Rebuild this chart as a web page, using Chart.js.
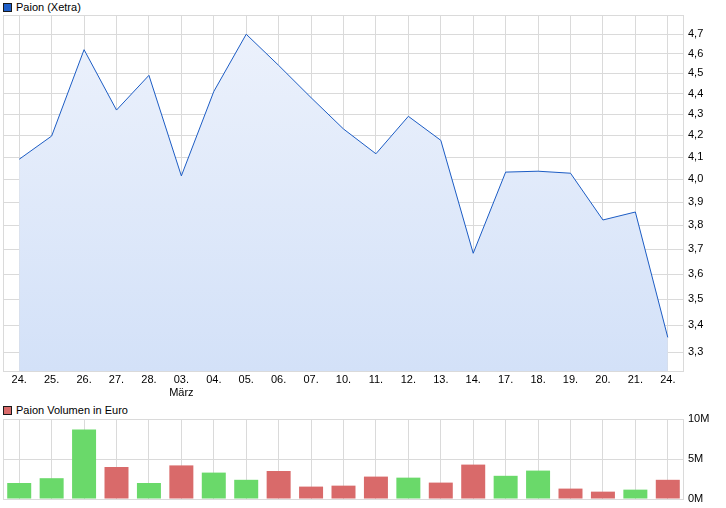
<!DOCTYPE html>
<html>
<head>
<meta charset="utf-8">
<script src="https://cdn.jsdelivr.net/npm/chart.js@4.4.1/dist/chart.umd.min.js"></script>
<style>
  html, body { margin: 0; background: #fff; overflow: hidden; font-family: "Liberation Sans", Arial, sans-serif; }
  #wrap { position: relative; width: 726px; height: 508px; overflow: hidden; }
  .legend { position: absolute; left: 3px; font-size: 11px; color: #000; line-height: 12px; }
  .legend i { display: inline-block; width: 7px; height: 7px; border: 1px solid #1a1a1a; margin-right: 4px; vertical-align: -1px; }
  #priceBox { position: absolute; left: 0; top: 0; width: 726px; height: 400px; }
  #volBox { position: absolute; left: 0; top: 400px; width: 726px; height: 114px; }
</style>
</head>
<body>
<div id="wrap">
  <div class="legend" style="top:1px"><i style="background:#1f5fc9"></i>Paion (Xetra)</div>
  <div class="legend" style="top:404px"><i style="background:#d96a6a"></i>Paion Volumen in Euro</div>
  <div id="priceBox"><canvas id="priceChart" width="726" height="400"></canvas></div>
  <div id="volBox"><canvas id="volChart" width="726" height="114"></canvas></div>
</div>
<script>
// Data
const days = ["24.", "25.", "26.", "27.", "28.", ["03.", "März"], "04.", "05.", "06.", "07.",
  "10.", "11.", "12.", "13.", "14.", "17.", "18.", "19.", "20.", "21.", "24."];
const prices = [4.09, 4.197, 4.62, 4.32, 4.49, 4.015, 4.41, 4.70, 4.54, 4.38,
  4.23, 4.115, 4.29, 4.177, 3.684, 4.032, 4.036, 4.027, 3.823, 3.857, 3.355];
const volumes = [2.0, 2.6, 8.7, 4.0, 2.0, 4.2, 3.3, 2.4, 3.5, 1.55,
  1.67, 2.8, 2.67, 2.05, 4.3, 2.9, 3.55, 1.3, 0.92, 1.17, 2.4].map(v => v * 1e6);
const priceTicks = [3.3, 3.4, 3.5, 3.6, 3.7, 3.8, 3.9, 4.0, 4.1, 4.2, 4.3, 4.4, 4.5, 4.6, 4.7];
const volTicks = [0, 5e6, 10e6];

Chart.defaults.font.family = '"Liberation Sans", Arial, sans-serif';
Chart.defaults.font.size = 11;
Chart.defaults.color = '#000';
Chart.defaults.animation = false;

const gridColor = '#dadada';

// Frame around the plot area
const frame = {
  id: 'frame',
  beforeDatasetsDraw(chart) {
    const a = chart.chartArea, c = chart.ctx;
    c.save();
    c.strokeStyle = gridColor;
    c.lineWidth = 1;
    c.strokeRect(Math.round(a.left) + 0.5, Math.round(a.top) + 0.5,
      Math.round(a.right - a.left) - 1, Math.round(a.bottom - a.top));
    c.restore();
  }
};

// Price chart
new Chart(document.getElementById('priceChart'), {
  type: 'line',
  data: {
    labels: days,
    datasets: [{
      data: prices,
      borderColor: '#1c5cc4',
      borderWidth: 1,
      pointRadius: 0,
      tension: 0,
      fill: 'start',
      backgroundColor: ctx => {
        const a = ctx.chart.chartArea;
        if (!a) return '#e4ecfa';
        const g = ctx.chart.ctx.createLinearGradient(0, a.top, 0, a.bottom);
        g.addColorStop(0, '#edf2fc');
        g.addColorStop(1, '#d3e1f8');
        return g;
      }
    }]
  },
  options: {
    responsive: false,
    layout: { padding: { left: 3, top: 15, right: 0, bottom: 0 } },
    plugins: { legend: { display: false }, tooltip: { enabled: false } },
    scales: {
      x: {
        offset: true,
        grid: { color: gridColor, drawTicks: false, offset: false },
        border: { display: false },
        ticks: { maxRotation: 0, autoSkip: false, padding: 2, font: { size: 11 } },
        afterFit: s => { s.height = 29; }
      },
      y: {
        type: 'logarithmic',
        position: 'right',
        min: 3.232,
        max: 4.8016,
        grid: { color: gridColor, drawTicks: false },
        border: { display: false },
        afterBuildTicks: s => { s.ticks = priceTicks.map(v => ({ value: v })); },
        ticks: {
          padding: 4,
          callback: v => v.toFixed(1).replace('.', ',')
        },
        afterFit: s => { s.width = 42; }
      }
    }
  },
  plugins: [frame]
});

// Volume chart: green when the close rose, red when it fell
const barColors = prices.map((p, i) => (i === 0 || p >= prices[i - 1]) ? '#6ad96a' : '#d96a6a');

new Chart(document.getElementById('volChart'), {
  type: 'bar',
  data: {
    labels: days,
    datasets: [{
      data: volumes,
      backgroundColor: barColors,
      barPercentage: 0.74,
      categoryPercentage: 1
    }]
  },
  options: {
    responsive: false,
    layout: { padding: { left: 3, top: 19, right: 0, bottom: 9 } },
    plugins: { legend: { display: false }, tooltip: { enabled: false } },
    scales: {
      x: {
        offset: true,
        grid: { color: gridColor, drawTicks: false, offset: false },
        border: { display: false },
        ticks: { display: false },
        afterFit: s => { s.height = 6; }
      },
      y: {
        position: 'right',
        min: 0,
        max: 10e6,
        grid: { color: gridColor, drawTicks: false },
        border: { display: false },
        afterBuildTicks: s => { s.ticks = volTicks.map(v => ({ value: v })); },
        ticks: { padding: 4, callback: v => (v / 1e6) + 'M' },
        afterFit: s => { s.width = 42; }
      }
    }
  },
  plugins: [frame]
});
</script>
</body>
</html>
